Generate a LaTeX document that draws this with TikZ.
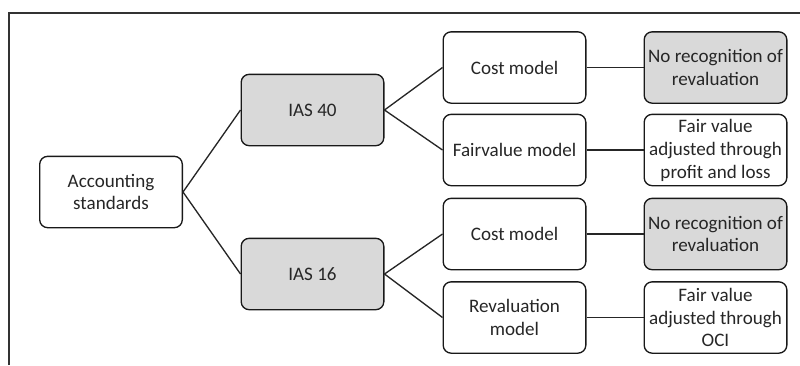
\documentclass[tikz,border=0pt]{standalone}
\usepackage{fontspec}
\setmainfont{Carlito}
\begin{document}
\begin{tikzpicture}[x=0.75pt,y=-0.75pt,
  box/.style={draw=black!90, line width=1pt, rounded corners=6pt,
    minimum width=107pt, minimum height=53.5pt, align=center,
    inner sep=1pt, font=\fontsize{14.3}{17.2}\selectfont, text=black!85},
  shaded/.style={box, fill=black!15},
  link/.style={draw=black!85, line width=1pt}]
\useasboundingbox (0,0) rectangle (800,365);
% frame
\draw[black!80, line width=1.5pt] (9,365) -- (9,13) -- (800,13);
% nodes
\node[box] (acc) at (111,192) {Accounting\\standards};
\node[shaded] (ias40) at (312.5,110) {IAS 40};
\node[shaded] (ias16) at (312.5,274) {IAS 16};
\node[box] (cm1) at (514.5,67.5) {Cost model};
\node[box] (fv) at (514.5,150) {Fairvalue model};
\node[box] (cm2) at (514.5,234) {Cost model};
\node[box] (rv) at (514.5,317.5) {Revaluation\\model};
\node[shaded] (nr1) at (715.5,67.5) {No recognition of\\revaluation};
\node[box] (fvpl) at (715.5,150) {Fair value\\adjusted through\\profit and loss};
\node[shaded] (nr2) at (715.5,234) {No recognition of\\revaluation};
\node[box] (fvoci) at (715.5,317.5) {Fair value\\adjusted through\\OCI};
% connectors
\draw[link] (ias40.west) -- (acc.east) -- (ias16.west);
\draw[link] (cm1.west) -- (ias40.east) -- (fv.west);
\draw[link] (cm2.west) -- (ias16.east) -- (rv.west);
\draw[link] (cm1) -- (nr1);
\draw[link] (fv) -- (fvpl);
\draw[link] (cm2) -- (nr2);
\draw[link] (rv) -- (fvoci);
\end{tikzpicture}
\end{document}
